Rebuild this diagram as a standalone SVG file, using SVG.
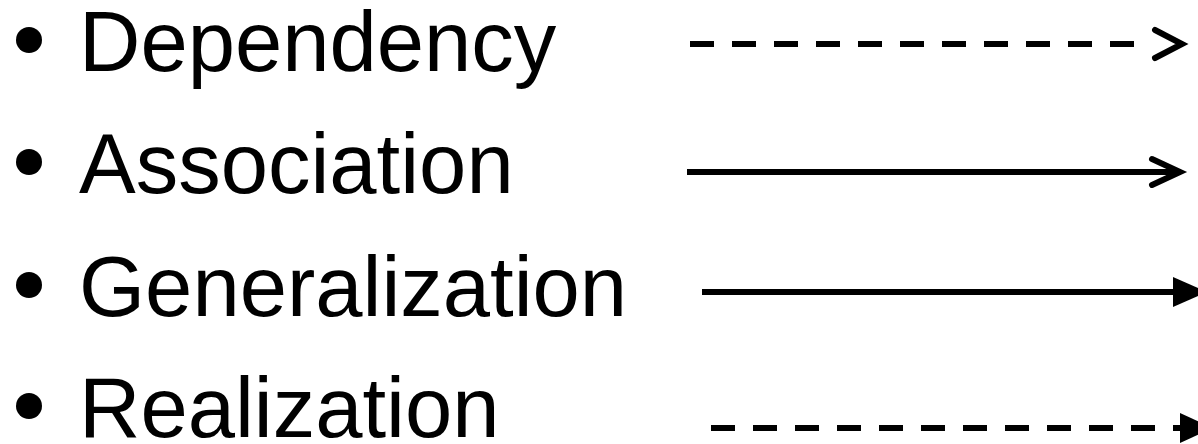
<svg xmlns="http://www.w3.org/2000/svg" width="1198" height="444" viewBox="0 0 1198 444">
<style>
.lbl{font-family:"Liberation Sans",Arial,Helvetica,sans-serif;font-size:85px;fill:#000}
.ln{stroke:#000;stroke-width:6;fill:none}
.dash{stroke-dasharray:24 18}
.chev{stroke:#000;stroke-width:6;fill:none;stroke-linecap:round;stroke-linejoin:miter}
.tri{fill:#000}
</style>
<g id="item-dependency">
<circle cx="29" cy="40" r="13"/>
<text class="lbl" x="79" y="71">Dependency</text>
</g>
<g id="item-association">
<circle cx="29" cy="162" r="13"/>
<text class="lbl" x="79" y="193">Association</text>
</g>
<g id="item-generalization">
<circle cx="29" cy="285" r="13"/>
<text class="lbl" x="79" y="316">Generalization</text>
</g>
<g id="item-realization">
<circle cx="29" cy="406" r="13"/>
<text class="lbl" x="79" y="437">Realization</text>
</g>
<g id="connectors">
<line class="ln dash" x1="690" y1="44" x2="1134" y2="44"/>
<polyline class="chev" points="1155,30 1182,44 1155,58"/>
<line class="ln" x1="687" y1="172" x2="1180" y2="172"/>
<polyline class="chev" points="1152,159 1180,172 1152,185"/>
<line class="ln" x1="702" y1="292" x2="1175" y2="292"/>
<polygon class="tri" points="1173,277 1207,292 1173,307"/>
<line class="ln dash" x1="711" y1="428" x2="1182" y2="428"/>
<polygon class="tri" points="1180,413 1213,428 1180,443"/>
</g>
</svg>
